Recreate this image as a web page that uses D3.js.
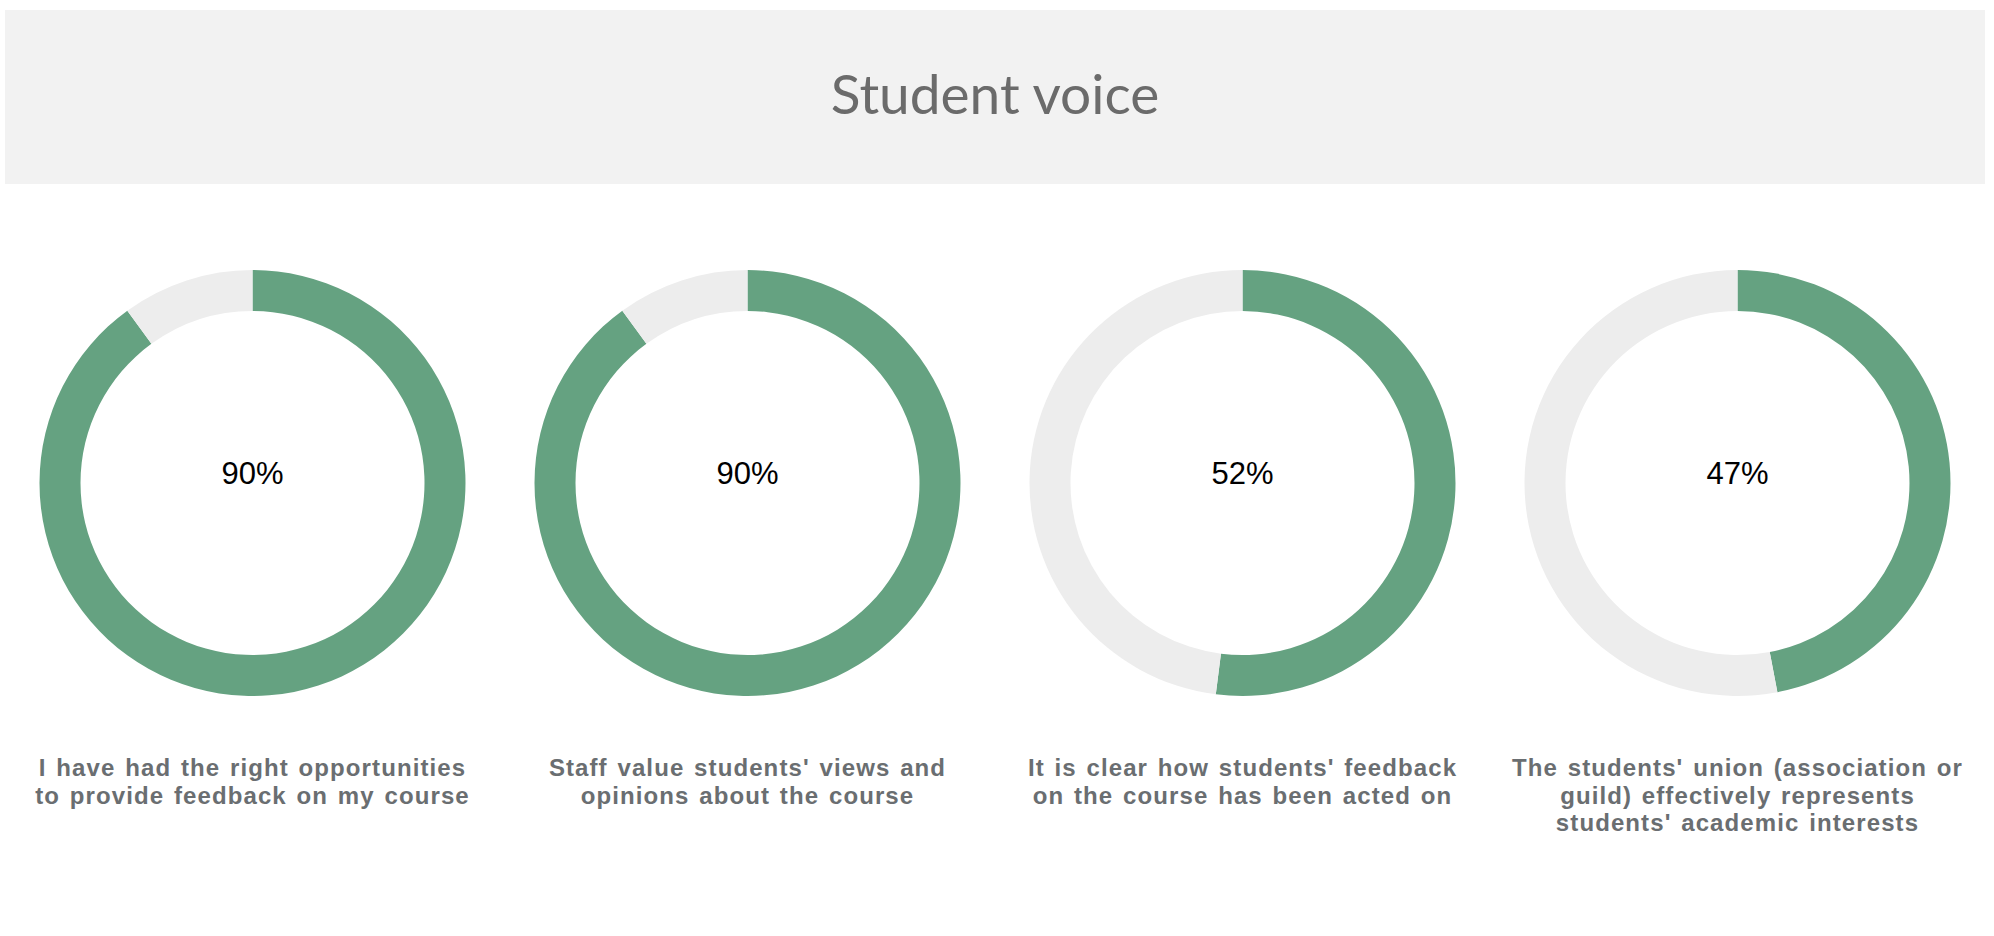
<!DOCTYPE html>
<html>
<head>
<meta charset="utf-8">
<script src="https://cdn.jsdelivr.net/npm/d3@7"></script>
<style>
  html, body { margin: 0; padding: 0; background: #ffffff; }
  svg { display: block; }
</style>
</head>
<body>
<svg id="chart" width="1994" height="936"></svg>
<script>
// ---- data ----
const title = "Student voice";
const categories = [
  "I have had the right opportunities\nto provide feedback on my course",
  "Staff value students' views and\nopinions about the course",
  "It is clear how students' feedback\non the course has been acted on",
  "The students' union (association or\nguild) effectively represents\nstudents' academic interests"
];
const values = [90, 90, 52, 47];

// ---- layout ----
const W = 1994, H = 936;
const left = 5, right = 1985;
const headerTop = 10, headerBottom = 184;
const cy = 483;
const outerR = 213, innerR = 172;
const colors = { filled: "#65a281", rest: "#ededed" };

const svg = d3.select("#chart");

svg.append("rect")
  .attr("x", left).attr("y", headerTop)
  .attr("width", right - left).attr("height", headerBottom - headerTop)
  .attr("fill", "#f2f2f2");

svg.append("text")
  .attr("x", (left + right) / 2)
  .attr("y", 114)
  .attr("text-anchor", "middle")
  .attr("font-family", "Lato, 'Open Sans', sans-serif")
  .attr("font-size", 55)
  .attr("fill", "#6b6b6b")
  .text(title);

const x = d3.scaleBand().domain(d3.range(categories.length)).range([left, right]);

const pie = d3.pie().sort(null).value(d => d);
const arc = d3.arc().innerRadius(innerR).outerRadius(outerR);

const g = svg.selectAll("g.donut")
  .data(values)
  .join("g")
  .attr("class", "donut")
  .attr("transform", (d, i) => `translate(${x(i) + x.bandwidth() / 2},${cy})`);

g.selectAll("path")
  .data(d => pie([d, 100 - d]))
  .join("path")
  .attr("d", arc)
  .attr("fill", (d, i) => i === 0 ? colors.filled : colors.rest);

g.append("text")
  .attr("x", 0).attr("y", 1)
  .attr("text-anchor", "middle")
  .attr("font-family", "'Liberation Sans', Arial, sans-serif")
  .attr("font-size", 31)
  .attr("fill", "#000")
  .text(d => d + "%");

const labels = svg.selectAll("text.label")
  .data(categories)
  .join("text")
  .attr("class", "label")
  .attr("text-anchor", "middle")
  .attr("font-family", "'Liberation Sans', Arial, sans-serif")
  .attr("font-weight", "bold")
  .attr("font-size", 24)
  .attr("letter-spacing", 1.1)
  .attr("word-spacing", 2)
  .attr("fill", "#6a6e71");

labels.each(function(d, i) {
  const t = d3.select(this);
  d.split("\n").forEach((line, j) => {
    t.append("tspan")
      .attr("x", x(i) + x.bandwidth() / 2)
      .attr("y", 776 + j * 27.7)
      .text(line);
  });
});
</script>
</body>
</html>
